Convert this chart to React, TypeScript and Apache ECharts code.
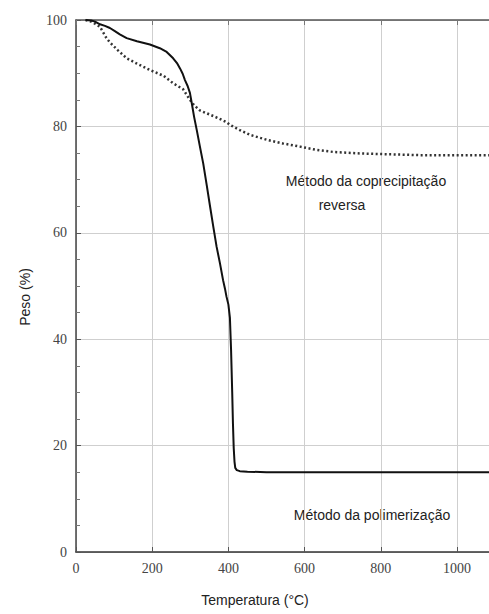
import React, { useEffect, useRef } from "react";
import * as echarts from "echarts";

const polimTemp = [25, 40, 50, 63, 76, 89, 102, 115, 133, 160, 194, 220, 238, 255, 265, 273, 280, 286, 293, 299, 304, 310, 317, 325, 334, 343, 352, 360, 369, 378, 386, 391, 395, 400, 404, 407, 410, 412, 414, 416, 418, 422, 430, 450, 500, 600, 800, 1000, 1084];
const polimPeso = [100, 99.9, 99.7, 99.2, 98.9, 98.5, 97.9, 97.3, 96.6, 96.0, 95.4, 94.7, 94.0, 92.8, 91.9, 90.9, 89.9, 88.7, 87.6, 86.3, 84.3, 81.8, 79.3, 76.3, 73, 69, 64.9, 61.3, 57.4, 54.2, 51.1, 49.5, 48, 46.5, 44, 38, 30, 24, 19.5, 17, 15.8, 15.4, 15.2, 15.1, 15.0, 15.0, 15.0, 15.0, 15.0];

const copreTemp = [25, 40, 50, 63, 80, 89, 110, 133, 160, 194, 230, 255, 281, 299, 310, 325, 352, 375, 395, 404, 430, 457, 500, 543, 588, 630, 675, 750, 798, 900, 1000, 1084];
const coprePeso = [100, 99.7, 99.3, 98.7, 96.6, 95.8, 94.3, 92.8, 91.8, 90.6, 89.5, 88.1, 87.0, 85.0, 84.0, 83.0, 82.2, 81.5, 80.8, 80.3, 79.3, 78.4, 77.5, 76.8, 76.2, 75.6, 75.2, 74.9, 74.8, 74.6, 74.6, 74.6];

const xTitle = "Temperatura (°C)";
const yTitle = "Peso (%)";
const labelCopre1 = "Método da coprecipitação";
const labelCopre2 = "reversa";
const labelPolim = "Método da polimerização";

export default function App() {
  const ref = useRef<HTMLDivElement>(null);
  useEffect(() => {
    if (!ref.current) return;
    const chart = echarts.init(ref.current, undefined, { renderer: "svg" });
    const serif = "serif";
    const sans = "Liberation Sans";
    const txt = (text: string, x: number, y: number, extra: any = {}) => ({
      type: "text",
      x,
      y,
      ...extra,
      style: {
        text,
        fontFamily: sans,
        fontSize: 14,
        fill: "#222",
        align: "center",
        verticalAlign: "middle",
      },
    });
    chart.setOption({
      animation: false,
      backgroundColor: "#ffffff",
      grid: { left: 76, right: 0, top: 20, bottom: 62, containLabel: false },
      xAxis: [
        {
          type: "value",
          min: 0,
          max: 1084,
          interval: 200,
          axisLine: { show: true, lineStyle: { color: "#333", width: 1.5 } },
          axisTick: { show: true, inside: true, length: 5, lineStyle: { color: "#555" } },
          axisLabel: {
            fontFamily: serif,
            fontSize: 14,
            color: "#444",
            margin: 9,
            showMaxLabel: false,
            formatter: (v: number) => String(v),
          },
          splitLine: { show: true, lineStyle: { color: "#cfcfcf", width: 1 } },
        },
        {
          type: "value",
          position: "top",
          min: 0,
          max: 1084,
          interval: 200,
          axisLine: { show: true, lineStyle: { color: "#555", width: 1.5 } },
          axisTick: { show: true, inside: true, length: 5, lineStyle: { color: "#777" } },
          axisLabel: { show: false },
          splitLine: { show: false },
        },
      ],
      yAxis: {
        type: "value",
        min: 0,
        max: 100,
        interval: 20,
        axisLine: { show: true, lineStyle: { color: "#444", width: 1.5 } },
        axisTick: { show: true, inside: true, length: 5, lineStyle: { color: "#555" } },
        minorTick: { show: true, splitNumber: 4, length: 4, lineStyle: { color: "#777" } },
        axisLabel: { fontFamily: serif, fontSize: 14, color: "#444", margin: 9 },
        splitLine: { show: true, lineStyle: { color: "#cfcfcf", width: 1 } },
      },
      series: [
        {
          name: "polimerizacao",
          type: "line",
          data: polimTemp.map((t, i) => [t, polimPeso[i]]),
          showSymbol: false,
          symbol: "none",
          lineStyle: { color: "#111", width: 2, join: "round" },
          z: 3,
        },
        {
          name: "coprecipitacao",
          type: "line",
          data: copreTemp.map((t, i) => [t, coprePeso[i]]),
          showSymbol: false,
          symbol: "none",
          lineStyle: { color: "#333", width: 2.5, type: [2, 2.5] },
          z: 2,
        },
      ],
      graphic: [
        txt(xTitle, 255, 600),
        txt(yTitle, 25, 297, { rotation: Math.PI / 2 }),
        txt(labelCopre1, 366, 181),
        txt(labelCopre2, 342, 205),
        txt(labelPolim, 372, 515),
      ],
    });
    return () => chart.dispose();
  }, []);
  return <div ref={ref} style={{ position: "fixed", left: 0, top: 0, width: 489, height: 614 }} />;
}
